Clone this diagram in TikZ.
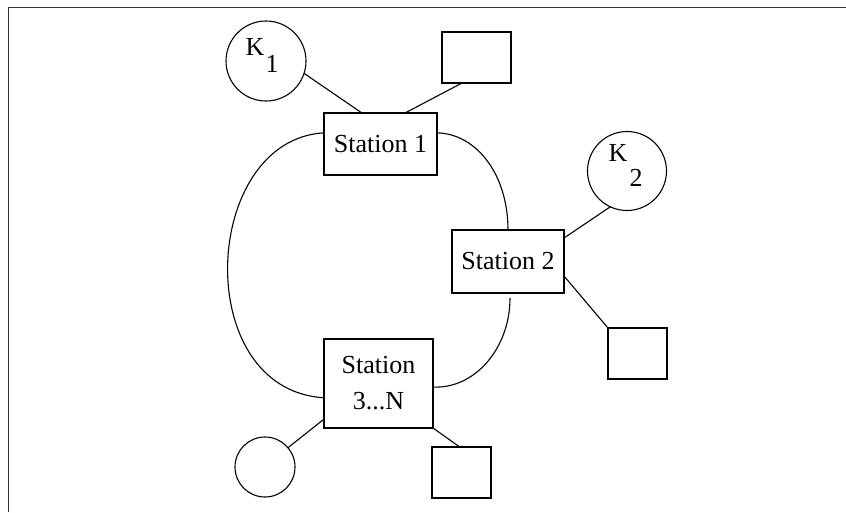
\documentclass[tikz,border=0pt]{standalone}
\usepackage{fontspec}
\setmainfont{Liberation Serif}
\usetikzlibrary{calc}
\begin{document}
\begin{tikzpicture}[x=1pt,y=-1pt,line width=1.1pt,
  stationbox/.style={draw,rectangle,inner sep=0pt,outer sep=0pt,align=center,font=\fontsize{26}{36}\selectfont},
  smallbox/.style={draw,rectangle,inner sep=0pt,outer sep=0pt},
  keynode/.style={draw,circle,inner sep=0pt,outer sep=0pt},
  keytext/.style={inner sep=0pt,font=\fontsize{26}{30}\selectfont},
  link/.style={line width=1.1pt}]
\useasboundingbox (0,0) rectangle (846,512);
% frame (top and left edges only)
\draw[line width=1pt,black!80] (8,512) -- (8,7) -- (846,7);

% stations
\node[stationbox,minimum width=113pt,minimum height=62pt] (s1) at (380.5,144) {Station 1};
\node[stationbox,minimum width=112pt,minimum height=63pt] (s2) at (508,261.5) {Station 2};
\node[stationbox,minimum width=109pt,minimum height=89pt] (s3) at (378.5,383.5) {Station\\3...N};

% key circles
\node[keynode,minimum size=80pt] (k1) at (266,61) {};
\node[keytext] (k1a) at (255,47) {K};
\node[keytext] (k1b) at (272,64) {1};
\node[keynode,minimum size=79pt] (k2) at (627,171) {};
\node[keytext] (k2a) at (618,153) {K};
\node[keytext] (k2b) at (636,178) {2};
\node[keynode,minimum size=60pt] (c3) at (265,467) {};

% small boxes
\node[smallbox,minimum width=69pt,minimum height=51pt] (r1) at (476.5,57.5) {};
\node[smallbox,minimum width=59pt,minimum height=51pt] (r2) at (637.5,353.5) {};
\node[smallbox,minimum width=59pt,minimum height=51pt] (r3) at (461.5,472.5) {};

% spokes
\draw[link] (k1.-18) -- ($(s1.north west)!0.336!(s1.north east)$);
\draw[link] ($(r1.south west)!0.29!(r1.south east)$) -- ($(s1.north west)!0.717!(s1.north east)$);
\draw[link] (k2.245) -- ($(s2.north east)!0.127!(s2.south east)$);
\draw[link] ($(s2.north east)!0.73!(s2.south east)$) -- (r2.north west);
\draw[link] (c3.40) -- ($(s3.north west)!0.9!(s3.south west)$);
\draw[link] (s3.south east) -- ($(r3.north west)!0.47!(r3.north east)$);

% ring
\draw[link] ($(s1.north west)!0.32!(s1.south west)$) .. controls +(-123,7) and +(-134,-8) .. ($(s3.north west)!0.66!(s3.south west)$);
\draw[link] ($(s1.north east)!0.32!(s1.south east)$) .. controls +(40,1) and +(0,-55) .. (s2.north);
\draw[link] ($(s2.south)+(2,5)$) .. controls +(0,50) and +(42,2) .. ($(s3.north east)!0.54!(s3.south east)$);
\end{tikzpicture}
\end{document}
